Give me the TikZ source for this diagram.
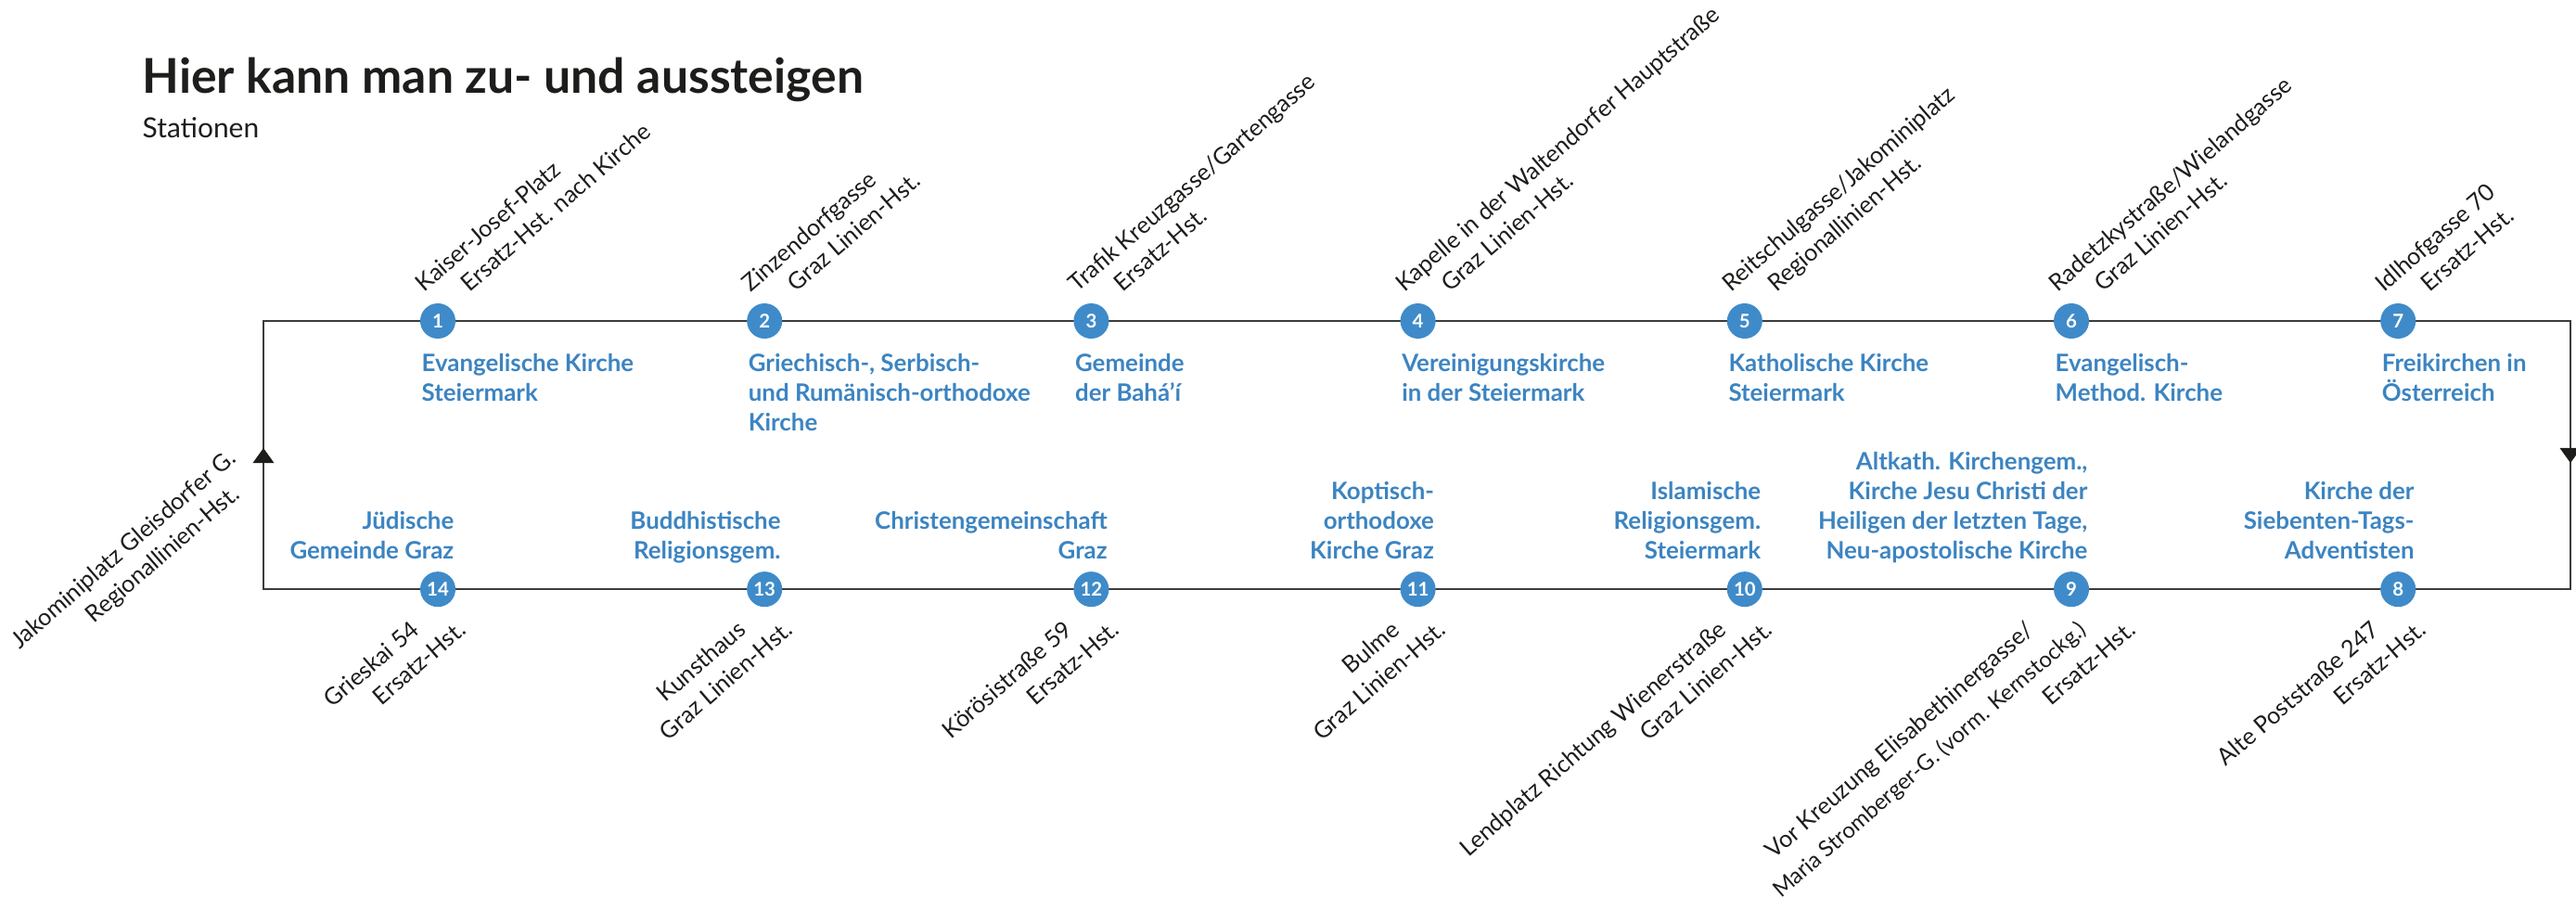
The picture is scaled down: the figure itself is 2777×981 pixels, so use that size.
\documentclass[tikz,border=0pt]{standalone}
\usepackage{fontspec}
\setmainfont{Lato}
\usetikzlibrary{arrows.meta,positioning}

\definecolor{stopblue}{HTML}{3F8BC9}
\definecolor{churchblue}{HTML}{3C84C1}
\definecolor{ink}{HTML}{1D1D1B}
\definecolor{trackgray}{HTML}{3C3C3B}

\tikzset{
  stopdot/.style={circle, fill=stopblue, text=white, minimum size=0.38cm, inner sep=0pt, font=\bfseries\fontsize{5.8}{6}\selectfont},
  church/.style={text=churchblue, inner sep=0pt, font=\bfseries\fontsize{7.35}{9.1}\selectfont},
  halt/.style={rotate=41, inner sep=0pt, text=ink, font=\fontsize{7.2}{9}\selectfont},
  track/.style={draw=trackgray, line width=0.4pt},
  headup/.style={-{Triangle[length=4.6pt, width=6.5pt, color=ink]}}
}

\begin{document}
\begin{tikzpicture}[x=0.01cm, y=-0.01cm, node distance=3.52cm]
    \useasboundingbox (0,0) rectangle (2777,981);

    % Title
    \node[anchor=base west, text=ink, inner sep=0pt, font=\bfseries\fontsize{14.7}{16}\selectfont] (title) at (153,100) {Hier kann man zu- und aussteigen};
    \node[anchor=base west, text=ink, inner sep=0pt, font=\fontsize{8.5}{10}\selectfont] (subtitle) at (153,148) {Stationen};

    % Track
    \coordinate (bl) at (284,635);
    \coordinate (tl) at (284,346);
    \coordinate (tr) at (2771,346);
    \coordinate (br) at (2771,635);
    \coordinate (lup) at (284,483);
    \coordinate (rdown) at (2771,499);
    \draw[track] (bl) -- (tl) -- (tr) -- (br) -- cycle;
    \draw[track, headup] (bl) -- (lup);
    \draw[track, headup] (tr) -- (rdown);

    % Start / end
    \node[halt, anchor=base east] (j1) at (256,496) {Jakominiplatz Gleisdorfer G.};
    \node[halt, anchor=base east] (j2) at (260,535) {Regionallinien-Hst.};

    % Station 1
    \node[stopdot] (s1) at (472,346) {1};
    \node[halt, anchor=base west] (h1a) at ([xshift=-0.15cm, yshift=0.3cm]s1) {Kaiser-Josef-Platz};
    \node[halt, anchor=base west] (h1b) at ([xshift=0.34cm, yshift=0.3cm]s1) {Ersatz-Hst. nach Kirche};
    \node[church, anchor=base west, align=left] (c1) at ([xshift=-0.18cm, yshift=-0.86cm]s1) {Evangelische Kirche\\Steiermark};

    % Station 2
    \node[stopdot, right of=s1] (s2) {2};
    \node[halt, anchor=base west] (h2a) at ([xshift=-0.15cm, yshift=0.3cm]s2) {Zinzendorfgasse};
    \node[halt, anchor=base west] (h2b) at ([xshift=0.34cm, yshift=0.3cm]s2) {Graz Linien-Hst.};
    \node[church, anchor=base west, align=left] (c2) at ([xshift=-0.18cm, yshift=-1.18cm]s2) {Griechisch-, Serbisch-\\und Rumänisch-orthodoxe\\Kirche};

    % Station 3
    \node[stopdot, right of=s2] (s3) {3};
    \node[halt, anchor=base west] (h3a) at ([xshift=-0.15cm, yshift=0.3cm]s3) {Trafik Kreuzgasse/Gartengasse};
    \node[halt, anchor=base west] (h3b) at ([xshift=0.34cm, yshift=0.3cm]s3) {Ersatz-Hst.};
    \node[church, anchor=base west, align=left] (c3) at ([xshift=-0.18cm, yshift=-0.86cm]s3) {Gemeinde\\der Bahá’í};

    % Station 4
    \node[stopdot, right of=s3] (s4) {4};
    \node[halt, anchor=base west] (h4a) at ([xshift=-0.15cm, yshift=0.3cm]s4) {Kapelle in der Waltendorfer Hauptstraße};
    \node[halt, anchor=base west] (h4b) at ([xshift=0.34cm, yshift=0.3cm]s4) {Graz Linien-Hst.};
    \node[church, anchor=base west, align=left] (c4) at ([xshift=-0.18cm, yshift=-0.86cm]s4) {Vereinigungskirche\\in der Steiermark};

    % Station 5
    \node[stopdot, right of=s4] (s5) {5};
    \node[halt, anchor=base west] (h5a) at ([xshift=-0.15cm, yshift=0.3cm]s5) {Reitschulgasse/Jakominiplatz};
    \node[halt, anchor=base west] (h5b) at ([xshift=0.34cm, yshift=0.3cm]s5) {Regionallinien-Hst.};
    \node[church, anchor=base west, align=left] (c5) at ([xshift=-0.18cm, yshift=-0.86cm]s5) {Katholische Kirche\\Steiermark};

    % Station 6
    \node[stopdot, right of=s5] (s6) {6};
    \node[halt, anchor=base west] (h6a) at ([xshift=-0.15cm, yshift=0.3cm]s6) {Radetzkystraße/Wielandgasse};
    \node[halt, anchor=base west] (h6b) at ([xshift=0.34cm, yshift=0.3cm]s6) {Graz Linien-Hst.};
    \node[church, anchor=base west, align=left] (c6) at ([xshift=-0.18cm, yshift=-0.86cm]s6) {Evangelisch-\\Method. Kirche};

    % Station 7
    \node[stopdot, right of=s6] (s7) {7};
    \node[halt, anchor=base west] (h7a) at ([xshift=-0.15cm, yshift=0.3cm]s7) {Idlhofgasse 70};
    \node[halt, anchor=base west] (h7b) at ([xshift=0.34cm, yshift=0.3cm]s7) {Ersatz-Hst.};
    \node[church, anchor=base west, align=left] (c7) at ([xshift=-0.18cm, yshift=-0.86cm]s7) {Freikirchen in\\Österreich};

    % Station 8
    \node[stopdot, below of=s7, node distance=2.89cm] (s8) {8};
    \node[halt, anchor=base east] (h8a) at ([xshift=-0.18cm, yshift=-0.46cm]s8) {Alte Poststraße 247};
    \node[halt, anchor=base east] (h8b) at ([xshift=0.32cm, yshift=-0.46cm]s8) {Ersatz-Hst.};
    \node[church, anchor=base east, align=right] (c8) at ([xshift=0.18cm, yshift=0.33cm]s8) {Kirche der\\Siebenten-Tags-\\Adventisten};

    % Station 9
    \node[stopdot, left of=s8] (s9) {9};
    \node[halt, anchor=base east] (h9a) at ([xshift=-0.38cm, yshift=-0.46cm]s9) {Vor Kreuzung Elisabethinergasse/};
    \node[halt, anchor=base east, font=\fontsize{6.8}{9}\selectfont] (h9b) at ([xshift=0.18cm, yshift=-0.46cm]s9) {Maria Stromberger-G. (vorm. Kernstockg.)};
    \node[halt, anchor=base east] (h9c) at ([xshift=0.71cm, yshift=-0.46cm]s9) {Ersatz-Hst.};
    \node[church, anchor=base east, align=right] (c9) at ([xshift=0.18cm, yshift=0.33cm]s9) {Altkath. Kirchengem.,\\Kirche Jesu Christi der\\Heiligen der letzten Tage,\\Neu-apostolische Kirche};

    % Station 10
    \node[stopdot, left of=s9] (s10) {10};
    \node[halt, anchor=base east] (h10a) at ([xshift=-0.18cm, yshift=-0.46cm]s10) {Lendplatz Richtung Wienerstraße};
    \node[halt, anchor=base east] (h10b) at ([xshift=0.32cm, yshift=-0.46cm]s10) {Graz Linien-Hst.};
    \node[church, anchor=base east, align=right] (c10) at ([xshift=0.18cm, yshift=0.33cm]s10) {Islamische\\Religionsgem.\\Steiermark};

    % Station 11
    \node[stopdot, left of=s10] (s11) {11};
    \node[halt, anchor=base east] (h11a) at ([xshift=-0.18cm, yshift=-0.46cm]s11) {Bulme};
    \node[halt, anchor=base east] (h11b) at ([xshift=0.32cm, yshift=-0.46cm]s11) {Graz Linien-Hst.};
    \node[church, anchor=base east, align=right] (c11) at ([xshift=0.18cm, yshift=0.33cm]s11) {Koptisch-\\orthodoxe\\Kirche Graz};

    % Station 12
    \node[stopdot, left of=s11] (s12) {12};
    \node[halt, anchor=base east] (h12a) at ([xshift=-0.18cm, yshift=-0.46cm]s12) {Körösistraße 59};
    \node[halt, anchor=base east] (h12b) at ([xshift=0.32cm, yshift=-0.46cm]s12) {Ersatz-Hst.};
    \node[church, anchor=base east, align=right] (c12) at ([xshift=0.18cm, yshift=0.33cm]s12) {Christengemeinschaft\\Graz};

    % Station 13
    \node[stopdot, left of=s12] (s13) {13};
    \node[halt, anchor=base east] (h13a) at ([xshift=-0.18cm, yshift=-0.46cm]s13) {Kunsthaus};
    \node[halt, anchor=base east] (h13b) at ([xshift=0.32cm, yshift=-0.46cm]s13) {Graz Linien-Hst.};
    \node[church, anchor=base east, align=right] (c13) at ([xshift=0.18cm, yshift=0.33cm]s13) {Buddhistische\\Religionsgem.};

    % Station 14
    \node[stopdot, left of=s13] (s14) {14};
    \node[halt, anchor=base east] (h14a) at ([xshift=-0.18cm, yshift=-0.46cm]s14) {Grieskai 54};
    \node[halt, anchor=base east] (h14b) at ([xshift=0.32cm, yshift=-0.46cm]s14) {Ersatz-Hst.};
    \node[church, anchor=base east, align=right] (c14) at ([xshift=0.18cm, yshift=0.33cm]s14) {Jüdische\\Gemeinde Graz};
\end{tikzpicture}
\end{document}
